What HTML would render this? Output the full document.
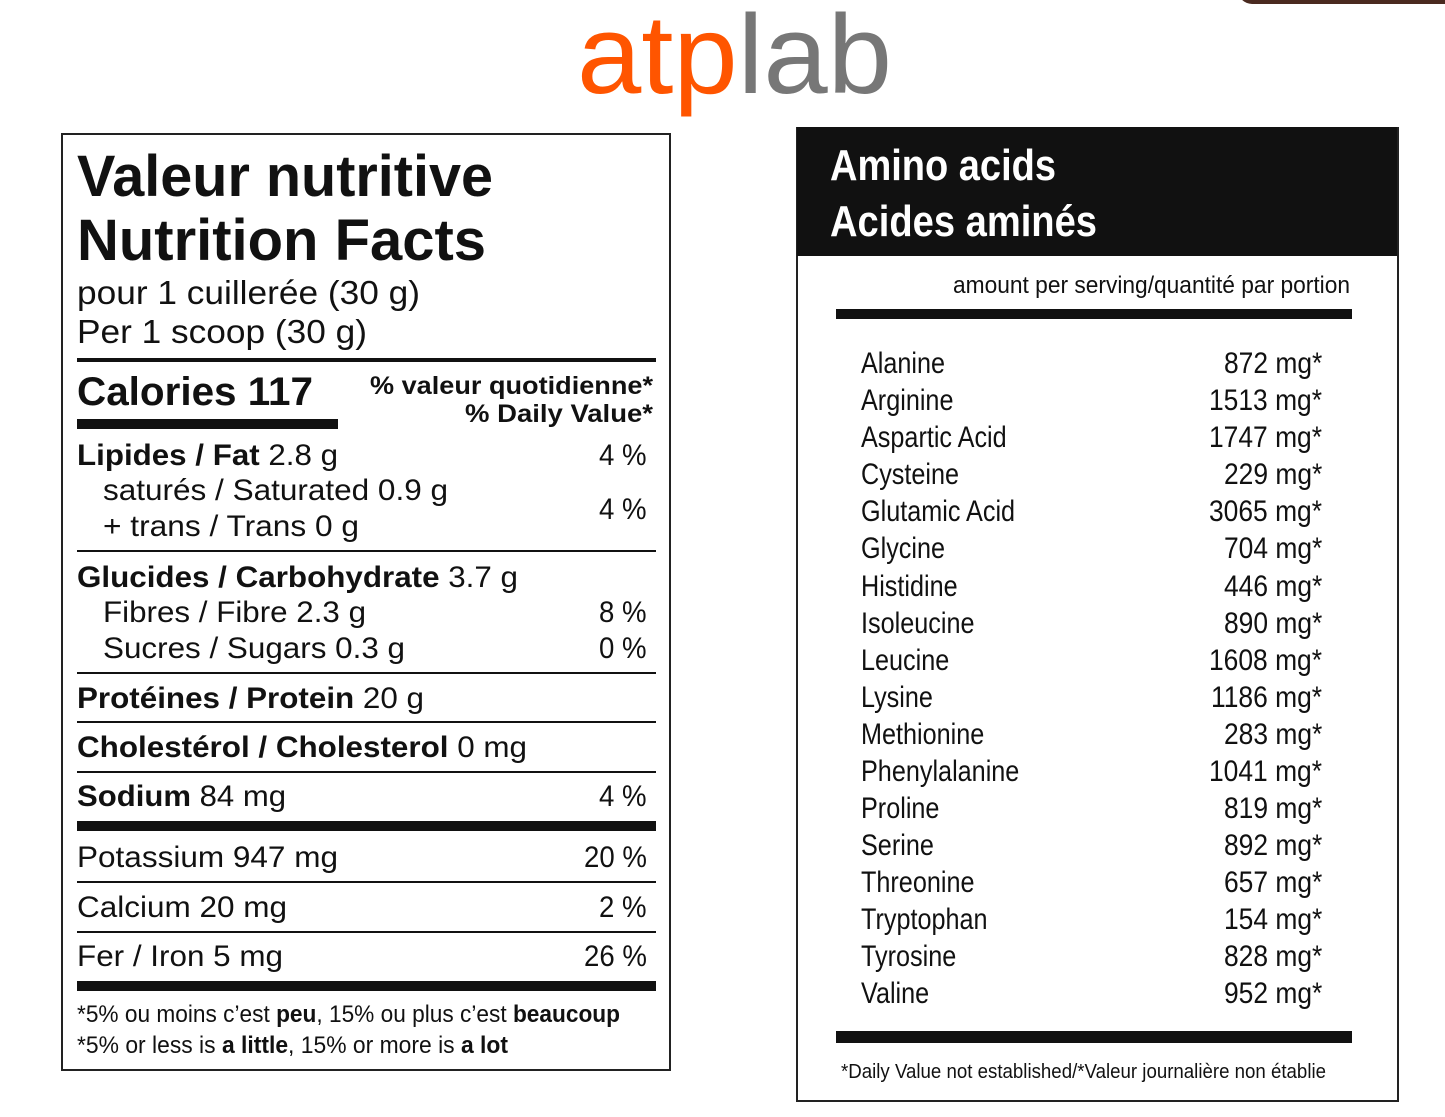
<!DOCTYPE html>
<html><head><meta charset="utf-8">
<style>
body{margin:0;width:1445px;height:1117px;background:#fff;position:relative;overflow:hidden;font-family:"Liberation Sans",sans-serif;color:#111}
.a{position:absolute}
.t{position:absolute;white-space:nowrap;line-height:1em;transform-origin:0 0}
.n{font-family:"Liberation Sans Narrow","Liberation Sans",sans-serif}
.r{background:#111;position:absolute}
</style></head><body>
<div class="a" style="left:1238px;top:-20px;width:240px;height:24px;background:#4a2a20;border-radius:0 0 0 14px"></div>
<div class="a" style="left:61px;top:133px;width:606px;height:934px;border:2px solid #222"></div>
<div class="a" style="left:796px;top:127px;width:599px;height:971px;border:2px solid #222"></div>
<div class="r" style="left:797px;top:127px;width:600px;height:129px"></div>
<script>
const lines=[[77,358,579,4],[77,419,261,10],[77,550,579,2],[77,672,579,2],[77,721,579,2],[77,771,579,2],[77,821,579,10],[77,881,579,2],[77,931,579,2],[77,981,579,10],[836,309,516,10],[836,1031,516,12]];
const aminoNames=["Alanine","Arginine","Aspartic Acid","Cysteine","Glutamic Acid","Glycine","Histidine","Isoleucine","Leucine","Lysine","Methionine","Phenylalanine","Proline","Serine","Threonine","Tryptophan","Tyrosine","Valine"];
const aminoValues=[872,1513,1747,229,3065,704,446,890,1608,1186,283,1041,819,892,657,154,828,952];
const root=document.body;
lines.forEach(l=>{const d=document.createElement('div');d.className='r';


d.style.cssText=`left:${l[0]}px;top:${l[1]}px;width:${l[2]}px;height:${l[3]}px`;root.appendChild(d);});
function t(x,base,size,html,opt){opt=opt||{};const s=document.createElement('div');s.className='t'+(opt.n?' n':'');


s.innerHTML=html;s.style.fontSize=size+'px';if(opt.b)s.style.fontWeight='bold';s.style.top=(base-0.86*size)+'px';if(opt.c)s.style.color=opt.c;root.appendChild(s);
const w=s.getBoundingClientRect().width;let sc=opt.s||1;if(opt.w)sc=opt.w/w;const fw=w*sc;
if(opt.right!==undefined){s.style.left=(opt.right-fw)+'px';}else s.style.left=x+'px';
s.style.transform=`scaleX(${sc})`;return s;}
t(577,95,112,'<span style="color:#ff5500">atp</span><span style="color:#777">lab</span>',{w:315,name:'logo'});
t(77,198,58,'Valeur nutritive',{b:1,w:416,name:'title-fr'});
t(77,262,58,'Nutrition Facts',{b:1,w:409,name:'title-en'});
t(77,304,33,'pour 1 cuillerée (30 g)',{w:343,name:'serving-fr'});
t(77,343,33,'Per 1 scoop (30 g)',{w:290,name:'serving-en'});
t(77,406,40,'Calories 117',{b:1,w:236,name:'calories'});
t(0,395,25,'% valeur quotidienne*',{b:1,w:283,right:653,name:'dv-header-fr'});
t(0,423,25,'% Daily Value*',{b:1,w:188,right:653,name:'dv-header-en'});
const rows=[[77,467,'<b>Lipides / Fat</b> 2.8 g',261,'4 %',467,'fat'],[103,502,'saturés / Saturated 0.9 g',345,'4 %',521,'saturated'],[103,538,'+ trans / Trans 0 g',256,null,0,'trans'],[77,589,'<b>Glucides / Carbohydrate</b> 3.7 g',441,null,0,'carbohydrate'],[103,624,'Fibres / Fibre 2.3 g',263,'8 %',624,'fibre'],[103,660,'Sucres / Sugars 0.3 g',302,'0 %',660,'sugars'],[77,710,'<b>Protéines / Protein</b> 20 g',347,null,0,'protein'],[77,759,'<b>Cholestérol / Cholesterol</b> 0 mg',450,null,0,'cholesterol'],[77,808,'<b>Sodium</b> 84 mg',209,'4 %',808,'sodium'],[77,869,'Potassium 947 mg',261,'20 %',869,'potassium'],[77,919,'Calcium 20 mg',210,'2 %',919,'calcium'],[77,968,'Fer / Iron 5 mg',206,'26 %',968,'iron']];
rows.forEach(r=>{t(r[0],r[1],30,r[2],{w:r[3],name:r[6]+'-row'});if(r[4])t(0,r[5],30,r[4],{right:647,s:0.92,name:r[6]+'-dv'});});
t(77,1024,24,'*5% ou moins c’est <b>peu</b>, 15% ou plus c’est <b>beaucoup</b>',{n:1,w:543,name:'footnote-fr'});
t(77,1055,24,'*5% or less is <b>a little</b>, 15% or more is <b>a lot</b>',{n:1,w:431,name:'footnote-en'});
t(830,182,44,'Amino acids',{n:1,b:1,c:'#fff',w:226,name:'amino-title-en'});
t(830,238,44,'Acides aminés',{n:1,b:1,c:'#fff',w:267,name:'amino-title-fr'});
t(0,295,24,'amount per serving/quantité par portion',{n:1,right:1350,w:397,name:'amount-per-serving'});
aminoNames.forEach((nm,i)=>{const b=375+i*37.05;t(861,b,30,nm,{n:1,s:0.84,name:'amino-name'});t(0,b,30,aminoValues[i]+' mg*',{n:1,s:0.88,right:1322,name:'amino-value'});});
t(841,1079,20,'*Daily Value not established/*Valeur journalière non établie',{n:1,w:485,name:'amino-footnote'});
</script>
</body></html>
